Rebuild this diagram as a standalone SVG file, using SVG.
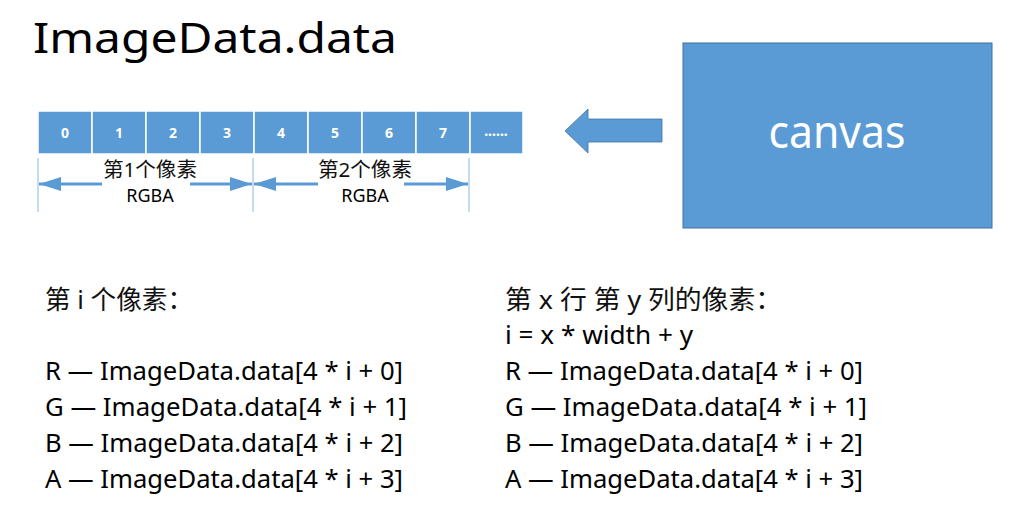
<svg xmlns="http://www.w3.org/2000/svg" width="1016" height="516" viewBox="0 0 1016 516">
<style>
  .t{font-family:"Noto Sans","Liberation Sans","Noto Sans CJK SC",sans-serif;fill:#000}
  .cjk{font-family:"Noto Sans","Noto Sans CJK SC",sans-serif;fill:#111}
  .cell{fill:#5B9BD5;stroke:#fff;stroke-width:1.5}
  .num{font-family:"Noto Sans","Liberation Sans",sans-serif;font-size:14px;font-weight:bold;fill:#fff;text-anchor:middle}
  .dim{stroke:#9DC3E6;stroke-width:1.2}
  .arr{stroke:#5B9BD5;stroke-width:3;fill:none}
  .code{font-size:25px}
</style>
<defs>
  <marker id="ah" viewBox="0 0 22 14" refX="22" refY="7" markerWidth="22" markerHeight="14" markerUnits="userSpaceOnUse" orient="auto-start-reverse">
    <path d="M0,0 L22,7 L0,14 z" fill="#5B9BD5"/>
  </marker>
</defs>
<rect width="1016" height="516" fill="#fff"/>
<text class="t" x="33" y="53" font-size="42" textLength="364" lengthAdjust="spacingAndGlyphs">ImageData.data</text>

<g id="array">
  <rect class="cell" x="38" y="111" width="54" height="43"/>
  <rect class="cell" x="92" y="111" width="54" height="43"/>
  <rect class="cell" x="146" y="111" width="54" height="43"/>
  <rect class="cell" x="200" y="111" width="54" height="43"/>
  <rect class="cell" x="254" y="111" width="54" height="43"/>
  <rect class="cell" x="308" y="111" width="54" height="43"/>
  <rect class="cell" x="362" y="111" width="54" height="43"/>
  <rect class="cell" x="416" y="111" width="54" height="43"/>
  <rect class="cell" x="470" y="111" width="53" height="43"/>
  <text class="num" x="65" y="138">0</text>
  <text class="num" x="119" y="138">1</text>
  <text class="num" x="173" y="138">2</text>
  <text class="num" x="227" y="138">3</text>
  <text class="num" x="281" y="138">4</text>
  <text class="num" x="335" y="138">5</text>
  <text class="num" x="389" y="138">6</text>
  <text class="num" x="443" y="138">7</text>
  <text class="num" x="496" y="136">......</text>
</g>

<g id="connectors">
  <line class="dim" x1="38" y1="158" x2="38" y2="212"/>
  <line class="dim" x1="253" y1="158" x2="253" y2="212"/>
  <line class="dim" x1="469" y1="158" x2="469" y2="212"/>
  <line class="arr" x1="102" y1="184" x2="39" y2="184" marker-end="url(#ah)"/>
  <line class="arr" x1="190" y1="184" x2="252" y2="184" marker-end="url(#ah)"/>
  <line class="arr" x1="318" y1="184" x2="254" y2="184" marker-end="url(#ah)"/>
  <line class="arr" x1="404" y1="184" x2="468" y2="184" marker-end="url(#ah)"/>
  <path id="blockarrow" d="M565,131 L588,109 L588,119 L662,119 L662,142 L588,142 L588,153 Z" fill="#5B9BD5" stroke="#41719C" stroke-width="0.8"/>
</g>

<g id="pixel1">
  <text class="cjk" x="103" y="177" font-size="20" textLength="94" lengthAdjust="spacingAndGlyphs">第1个像素</text>
  <text class="t" x="150" y="202" font-size="18" text-anchor="middle">RGBA</text>
</g>
<g id="pixel2">
  <text class="cjk" x="318" y="177" font-size="20" textLength="94" lengthAdjust="spacingAndGlyphs">第2个像素</text>
  <text class="t" x="365" y="202" font-size="18" text-anchor="middle">RGBA</text>
</g>

<g id="canvas">
  <rect x="683" y="43" width="309" height="185" fill="#5B9BD5" stroke="#41719C" stroke-width="1"/>
  <text class="t" x="837" y="148" font-size="46" style="fill:#fff" text-anchor="middle" textLength="137" lengthAdjust="spacingAndGlyphs">canvas</text>
</g>

<g id="left-text">
  <text class="cjk" x="45" y="309" font-size="26" textLength="148" lengthAdjust="spacingAndGlyphs">第 i 个像素：</text>
  <text class="t code" x="45" y="380" textLength="358" lengthAdjust="spacingAndGlyphs">R — ImageData.data[4 * i + 0]</text>
  <text class="t code" x="45" y="416" textLength="362" lengthAdjust="spacingAndGlyphs">G — ImageData.data[4 * i + 1]</text>
  <text class="t code" x="45" y="452" textLength="358" lengthAdjust="spacingAndGlyphs">B — ImageData.data[4 * i + 2]</text>
  <text class="t code" x="45" y="488" textLength="358" lengthAdjust="spacingAndGlyphs">A — ImageData.data[4 * i + 3]</text>
</g>

<g id="right-text">
  <text class="cjk" x="505" y="309" font-size="26" textLength="277" lengthAdjust="spacingAndGlyphs">第 x 行 第 y 列的像素：</text>
  <text class="t code" x="505" y="344" textLength="188" lengthAdjust="spacingAndGlyphs">i = x * width + y</text>
  <text class="t code" x="505" y="380" textLength="358" lengthAdjust="spacingAndGlyphs">R — ImageData.data[4 * i + 0]</text>
  <text class="t code" x="505" y="416" textLength="362" lengthAdjust="spacingAndGlyphs">G — ImageData.data[4 * i + 1]</text>
  <text class="t code" x="505" y="452" textLength="358" lengthAdjust="spacingAndGlyphs">B — ImageData.data[4 * i + 2]</text>
  <text class="t code" x="505" y="488" textLength="358" lengthAdjust="spacingAndGlyphs">A — ImageData.data[4 * i + 3]</text>
</g>
</svg>
